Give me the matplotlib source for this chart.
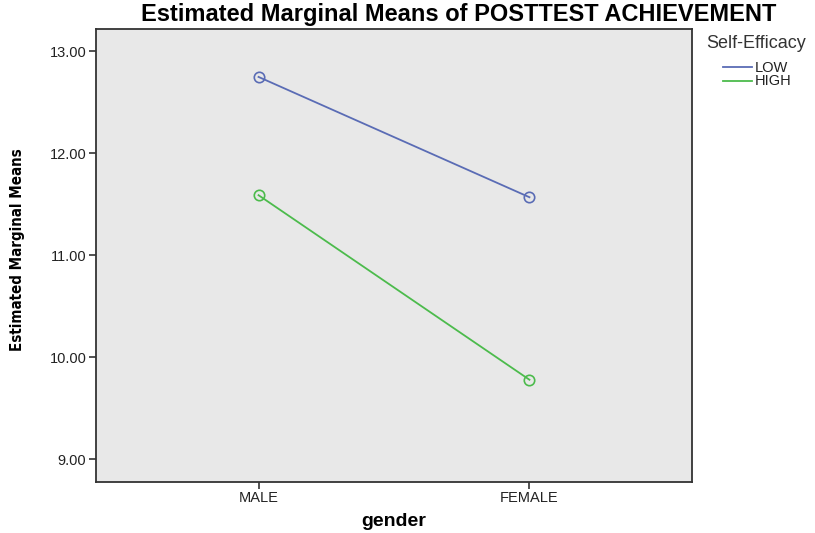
import matplotlib
matplotlib.use("Agg")
import matplotlib.pyplot as plt
from matplotlib import font_manager

categories = ["MALE", "FEMALE"]
low_values = [12.75, 11.57]
high_values = [11.59, 9.78]
series_names = ["LOW", "HIGH"]
y_ticks = [9.0, 10.0, 11.0, 12.0, 13.0]

names = {f.name for f in font_manager.fontManager.ttflist}
base = "Liberation Sans" if "Liberation Sans" in names else "DejaVu Sans"
plt.rcParams["font.family"] = [base, "DejaVu Sans"]

W, H = 815, 533
AX_L, AX_R, AX_T, AX_B = 96, 692, 29, 481.7
fig = plt.figure(figsize=(8.15, 5.33), dpi=100)
ax = fig.add_axes([AX_L / W, 1 - AX_B / H, (AX_R - AX_L) / W, (AX_B - AX_T) / H])
ax.set_facecolor("#e8e8e8")

x = list(range(len(categories)))
colors = ["#5a6cb5", "#4cbb4c"]
lines = []
for vals, name, c in zip([low_values, high_values], series_names, colors):
    ln, = ax.plot(x, vals, color=c, lw=1.3, marker="o", markersize=7.5,
                  markerfacecolor="none", markeredgecolor=c, markeredgewidth=1.2, label=name)
    lines.append(ln)

ax.set_xlim(-0.6, 1.6)
ax.set_ylim(8.78, 13.22)
ax.set_xticks(x)
ax.set_xticklabels(categories, fontsize=10.5, color="#222222")
ax.set_yticks(y_ticks)
ax.set_yticklabels([f"{v:.2f}" for v in y_ticks], fontsize=10.5, color="#222222")
ax.tick_params(axis="both", direction="out", length=5, width=1.2, color="#333333", pad=2)
for s in ax.spines.values():
    s.set_color("#333333")
    s.set_linewidth(1.3)

ax.set_xlabel("gender", fontsize=14, fontweight="bold")
ax.xaxis.set_label_coords(0.5, -(522 - AX_B) / (AX_B - AX_T))
ax.xaxis.label.set_va("center")

ax.set_ylabel("Estimated Marginal Means", fontsize=10.8, fontweight="bold",
              family=["DejaVu Sans"], fontstretch="condensed")
ax.yaxis.set_label_coords(-(AX_L - 18) / (AX_R - AX_L), (AX_B - 250) / (AX_B - AX_T))
ax.yaxis.label.set_va("center")

fig.text(459 / W, 1 - 15 / H, "Estimated Marginal Means of POSTTEST ACHIEVEMENT",
         fontsize=17, fontweight="bold", ha="center", va="center")

fig.text(706 / W, 1 - 43 / H, "Self-Efficacy", fontsize=13, ha="left", va="center",
         color="#333333")
leg = fig.legend(handles=lines, labels=series_names, loc="upper left",
                 bbox_to_anchor=(723 / W, 1 - 61 / H), frameon=False, fontsize=10.5,
                 handlelength=2.0, handletextpad=0.2, labelspacing=-0.05,
                 borderpad=0, borderaxespad=0, handleheight=0.5)
for h in leg.legend_handles:
    h.set_marker("")
for t in leg.get_texts():
    t.set_color("#222222")

fig.savefig("out.png", dpi=100)
